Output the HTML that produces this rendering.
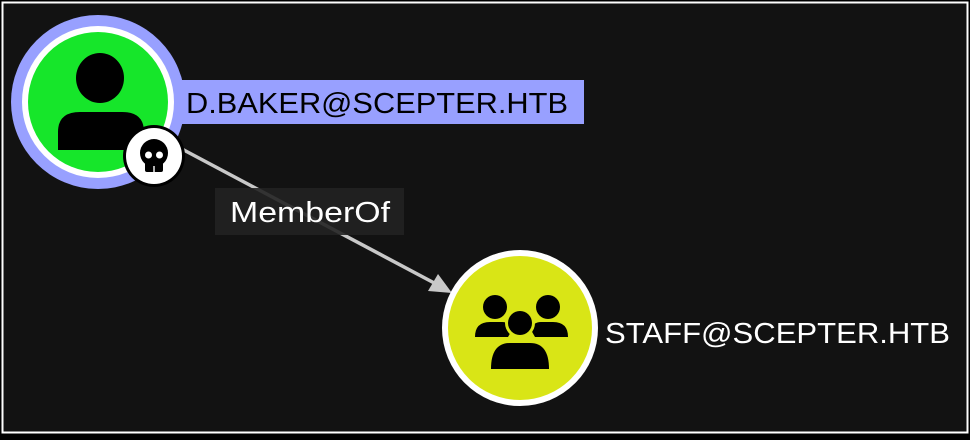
<!DOCTYPE html>
<html><head><style>
html,body{margin:0;padding:0;background:#000;}
body{width:970px;height:435px;overflow:hidden;}
</style></head><body>
<svg width="970" height="435" viewBox="0 0 970 435" xmlns="http://www.w3.org/2000/svg" font-family="Liberation Sans, sans-serif">
<rect x="0" y="0" width="970" height="435" fill="#000"/>
<rect x="2.5" y="2.5" width="965" height="430" fill="#121212" stroke="#fff" stroke-width="2"/>
<rect x="4" y="4" width="962" height="427" fill="#121212"/>
<!-- edge -->
<line x1="180" y1="148" x2="438" y2="285" stroke="#c8c8c8" stroke-width="3.5"/>
<polygon points="452,293 428,291 438,274" fill="#c8c8c8"/>
<rect x="215" y="188" width="189" height="47" fill="#222" fill-opacity="0.9"/>
<text x="230" y="222" fill="#fff" font-size="29" textLength="160" lengthAdjust="spacingAndGlyphs">MemberOf</text>
<!-- user node -->
<rect x="180" y="80" width="404" height="44" fill="#98a0ff"/>
<text x="186" y="113" fill="#000" font-size="29" textLength="382" lengthAdjust="spacingAndGlyphs">D.BAKER@SCEPTER.HTB</text>
<circle cx="98" cy="102" r="87" fill="#98a0ff"/>
<circle cx="98" cy="102" r="76" fill="#fff"/>
<circle cx="98" cy="102" r="70" fill="#16e62a"/>
<ellipse cx="100" cy="78" rx="24" ry="25" fill="#000"/>
<path d="M58 150 L58 132 Q58 112 80 112 L122 112 Q144 112 144 132 L144 150 Z" fill="#000"/>
<circle cx="154" cy="156" r="31" fill="#000"/>
<circle cx="154" cy="156" r="28" fill="#fff"/>
<circle cx="154" cy="153" r="14" fill="#000"/>
<rect x="145" y="158" width="18" height="14" rx="2" fill="#000"/>
<circle cx="148.5" cy="155" r="3.5" fill="#fff"/>
<circle cx="159.5" cy="155" r="3.5" fill="#fff"/>
<rect x="153.3" y="166" width="1.4" height="6" fill="#fff"/>
<!-- group node -->
<circle cx="520" cy="328" r="78" fill="#fff"/>
<circle cx="520" cy="328" r="72" fill="#d9e516"/>
<circle cx="495" cy="307" r="12" fill="#000"/>
<circle cx="548" cy="307" r="12" fill="#000"/>
<path d="M475 337 Q475 322 490 322 L502 322 Q510 322 512 330 L508 337 Z" fill="#000"/>
<path d="M568 337 Q568 322 553 322 L541 322 Q533 322 531 330 L535 337 Z" fill="#000"/>
<circle cx="520" cy="323" r="15" fill="#d9e516"/>
<circle cx="520" cy="323" r="12" fill="#000"/>
<path d="M491 369 Q491 343 510 343 L530 343 Q549 343 549 369 Z" fill="#000"/>
<text x="605" y="343" fill="#fff" font-size="29" textLength="345" lengthAdjust="spacingAndGlyphs">STAFF@SCEPTER.HTB</text>
</svg>
</body></html>
